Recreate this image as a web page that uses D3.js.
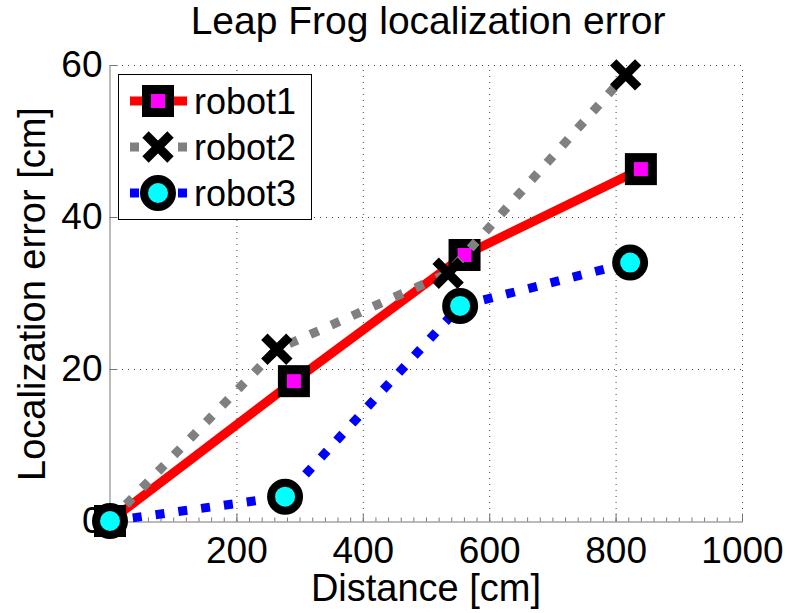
<!DOCTYPE html>
<html>
<head>
<meta charset="utf-8">
<script src="https://cdn.jsdelivr.net/npm/d3@7"></script>
<style>
  body { margin: 0; background: #fff; }
  text { font-family: "Liberation Sans", Arial, sans-serif; fill: #000; }
</style>
</head>
<body>
<svg id="svg" width="790" height="613"></svg>
<script>
// values
const names = ["robot1", "robot2", "robot3"];
const robot1X = [0, 291, 561, 840];
const robot1Y = [0, 18.4, 35.0, 46.3];
const robot2X = [0, 264, 535, 816];
const robot2Y = [0, 22.6, 32.6, 58.7];
const robot3X = [0, 277, 554, 823];
const robot3Y = [0, 3.2, 28.3, 34.0];
const xTicks = [200, 400, 600, 800, 1000];
const yTicks = [0, 20, 40, 60];

const svg = d3.select("#svg");
const x = d3.scaleLinear().domain([0, 1000]).range([110, 742]);
const y = d3.scaleLinear().domain([0, 60]).range([521, 65]);

// grid
const grid = svg.append("g")
    .attr("stroke", "#444")
    .attr("stroke-width", 1)
    .attr("stroke-dasharray", "1,5");
grid.selectAll("line.gx").data(xTicks).enter().append("line")
    .attr("x1", d => x(d) + 0.5).attr("x2", d => x(d) + 0.5)
    .attr("y1", y(0)).attr("y2", y(60));
grid.selectAll("line.gy").data(yTicks.slice(1)).enter().append("line")
    .attr("y1", d => y(d) + 0.5).attr("y2", d => y(d) + 0.5)
    .attr("x1", x(0)).attr("x2", x(1000));

// axes
const xAxis = svg.append("g")
    .attr("transform", "translate(0," + (y(0) + 0.5) + ")")
    .call(d3.axisBottom(x).tickValues(d3.range(0, 1001, 20)).tickSize(-4).tickFormat(""));
xAxis.selectAll("line, path").attr("stroke", "#777");
const xMajor = svg.append("g")
    .attr("transform", "translate(0," + (y(0) + 0.5) + ")")
    .call(d3.axisBottom(x).tickValues(xTicks).tickSize(-8).tickPadding(15).tickFormat(d3.format("d")));
xMajor.select("path").remove();
xMajor.selectAll("line").attr("stroke", "#777");
xMajor.selectAll("text").attr("font-size", 37).attr("dy", "0.71em")
    .attr("font-family", "Liberation Sans, Arial, sans-serif");

const yAxis = svg.append("g")
    .attr("transform", "translate(" + (x(0) - 0.5) + ",0)")
    .call(d3.axisLeft(y).tickValues(yTicks).tickSize(-8).tickPadding(7));
yAxis.select("path").attr("stroke", "#777");
yAxis.selectAll("line").attr("stroke", "#777");
yAxis.selectAll("text").attr("font-size", 37)
    .attr("font-family", "Liberation Sans, Arial, sans-serif");

// titles
svg.append("text").attr("x", 428).attr("y", 34)
    .attr("text-anchor", "middle").attr("font-size", 39)
    .text("Leap Frog localization error");
svg.append("text").attr("x", 426).attr("y", 601)
    .attr("text-anchor", "middle").attr("font-size", 38)
    .text("Distance [cm]");
svg.append("text")
    .attr("transform", "translate(45,294) rotate(-90)")
    .attr("text-anchor", "middle").attr("font-size", 38)
    .text("Localization error [cm]");

// markers
function drawSquare(g, cx, cy) {
    g.append("rect").attr("x", cx - 11.5).attr("y", cy - 11.5)
        .attr("width", 23).attr("height", 23)
        .attr("fill", "#ff00ff").attr("stroke", "#000").attr("stroke-width", 9);
}
function drawCross(g, cx, cy) {
    const s = 12.5;
    g.append("path")
        .attr("d", `M${cx - s},${cy - s}L${cx + s},${cy + s}M${cx - s},${cy + s}L${cx + s},${cy - s}`)
        .attr("stroke", "#000").attr("stroke-width", 9).attr("fill", "none");
}
function drawCircle(g, cx, cy) {
    g.append("circle").attr("cx", cx).attr("cy", cy).attr("r", 14)
        .attr("fill", "#00ffff").attr("stroke", "#000").attr("stroke-width", 8);
}

const series = [
    {name: names[0], xs: robot1X, ys: robot1Y, color: "#ff0000", dash: null, marker: drawSquare},
    {name: names[1], xs: robot2X, ys: robot2Y, color: "#808080", dash: "9,14", marker: drawCross},
    {name: names[2], xs: robot3X, ys: robot3Y, color: "#0000ff", dash: "9,14", marker: drawCircle}
];

const line = d3.line().x(d => x(d[0])).y(d => y(d[1]));

series.forEach(function (s) {
    const g = svg.append("g");
    const pts = s.xs.map((v, i) => [v, s.ys[i]]);
    g.append("path").datum(pts)
        .attr("d", line)
        .attr("fill", "none")
        .attr("stroke", s.color)
        .attr("stroke-width", 9)
        .attr("stroke-dasharray", s.dash);
    pts.forEach(p => s.marker(g, x(p[0]), y(p[1])));
});

// legend
const legend = svg.append("g");
legend.append("rect").attr("x", 118.5).attr("y", 74.5).attr("width", 193).attr("height", 145)
    .attr("fill", "#fff").attr("stroke", "#000").attr("stroke-width", 1);
series.forEach(function (s, i) {
    const ly = 101 + i * 46;
    const g = legend.append("g");
    g.append("line").attr("x1", 130).attr("x2", 187).attr("y1", ly).attr("y2", ly)
        .attr("stroke", s.color).attr("stroke-width", 9)
        .attr("stroke-dasharray", s.dash ? "9,39,9" : null);
    s.marker(g, 158, ly);
    g.append("text").attr("x", 194).attr("y", ly + 13)
        .attr("font-size", 36).text(s.name);
});
</script>
</body>
</html>
